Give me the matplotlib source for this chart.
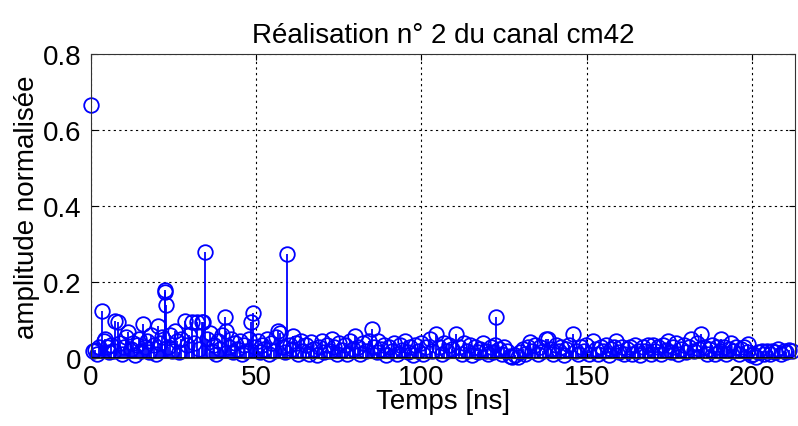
import numpy as np
import matplotlib
matplotlib.use("agg")
import matplotlib.pyplot as plt

# channel realisation (time in ns, normalised amplitude)
t_early = [0.0, 0.6, 1.2, 1.9, 2.5, 3.2, 3.8, 4.3, 5.0, 5.6, 6.2, 6.9, 7.3, 8.2, 8.8,
           9.5, 10.1, 10.7, 11.3, 12.0, 12.6, 13.2, 13.9, 14.5, 15.2, 15.8, 16.4, 17.1,
           17.7, 18.3, 19.0, 19.6, 20.4, 21.0, 21.6, 22.3, 22.5, 22.7, 23.3, 23.9, 24.6,
           25.4, 26.0, 26.7, 27.3, 28.4, 29.0, 29.6, 30.5, 31.2, 32.0, 32.6, 33.5, 34.0,
           34.6, 35.2, 35.9, 36.5, 37.2, 37.8, 38.5, 39.1, 39.8, 40.5, 41.0, 41.7, 42.3,
           43.0, 43.6, 44.3, 45.0, 45.6, 46.3, 47.0, 47.7, 48.5, 49.1, 49.7, 50.4, 51.1,
           51.8, 52.5, 53.2, 53.9, 54.6, 55.3, 56.0, 56.6, 57.3, 58.0, 58.7, 59.4, 60.1,
           60.8, 61.2, 62.0, 62.7, 63.5, 64.3, 65.1, 65.9, 66.7, 67.5, 68.3, 69.1, 69.8]
a_early = [0.665, 0.018, 0.022, 0.010, 0.030, 0.125, 0.045, 0.050, 0.028, 0.015, 0.035,
           0.020, 0.098, 0.094, 0.040, 0.012, 0.030, 0.055, 0.068, 0.025, 0.040, 0.008,
           0.035, 0.050, 0.020, 0.090, 0.030, 0.045, 0.015, 0.060, 0.035, 0.010, 0.085,
           0.040, 0.055, 0.178, 0.174, 0.140, 0.030, 0.060, 0.020, 0.072, 0.045, 0.015,
           0.050, 0.098, 0.035, 0.060, 0.095, 0.040, 0.095, 0.025, 0.095, 0.094, 0.279,
           0.050, 0.065, 0.020, 0.035, 0.010, 0.045, 0.025, 0.060, 0.107, 0.072, 0.030,
           0.050, 0.015, 0.040, 0.025, 0.045, 0.010, 0.035, 0.020, 0.050, 0.094, 0.120,
           0.030, 0.045, 0.015, 0.035, 0.025, 0.050, 0.010, 0.040, 0.020, 0.055, 0.072,
           0.065, 0.030, 0.015, 0.273, 0.035, 0.025, 0.059, 0.040, 0.010, 0.045, 0.020,
           0.035, 0.012, 0.042, 0.025, 0.008, 0.030, 0.046]

t_mid = [70.6, 71.4, 72.2, 72.8, 73.6, 74.4, 75.2, 76.0, 76.8, 77.6, 78.4, 79.2, 79.9,
         80.7, 81.5, 82.3, 83.1, 84.0, 84.9, 85.7, 86.5, 87.0, 87.8, 88.6, 89.4, 90.2,
         91.0, 91.8, 92.6, 93.4, 94.2, 95.0, 95.8, 96.6, 97.4, 98.2, 99.0, 99.8, 100.6,
         101.4, 102.5, 103.3, 104.5, 105.3, 106.1, 106.9, 107.7, 108.5, 109.3, 110.6,
         111.4, 112.2, 113.0, 113.8, 114.6, 115.4, 116.2, 117.0, 117.8, 118.6, 119.4,
         120.2, 121.0, 121.7, 122.3, 122.7, 123.5, 124.3, 125.1, 125.9, 126.7, 127.5,
         128.3, 129.1, 129.9, 130.7, 131.5, 132.3, 132.8, 133.6, 134.4, 135.2, 136.0,
         136.8, 137.8, 138.3, 139.1, 139.9]
a_mid = [0.015, 0.035, 0.020, 0.050, 0.030, 0.010, 0.040, 0.022, 0.035, 0.012, 0.045,
         0.025, 0.059, 0.030, 0.010, 0.040, 0.020, 0.045, 0.077, 0.030, 0.015, 0.044,
         0.025, 0.035, 0.008, 0.030, 0.018, 0.040, 0.012, 0.035, 0.022, 0.046, 0.015,
         0.030, 0.008, 0.035, 0.020, 0.040, 0.012, 0.030, 0.050, 0.020, 0.063, 0.030,
         0.010, 0.040, 0.018, 0.035, 0.025, 0.063, 0.030, 0.012, 0.040, 0.020, 0.035,
         0.008, 0.030, 0.015, 0.025, 0.041, 0.020, 0.010, 0.030, 0.015, 0.034, 0.107,
         0.025, 0.010, 0.030, 0.018, 0.005, 0.003, 0.008, 0.004, 0.015, 0.025, 0.010,
         0.030, 0.042, 0.020, 0.035, 0.012, 0.030, 0.020, 0.050, 0.050, 0.025, 0.010]

t_late = [140.7, 141.5, 142.3, 143.1, 143.9, 144.7, 145.9, 146.7, 147.5, 148.3, 149.1,
          149.9, 150.7, 151.9, 152.7, 153.5, 154.3, 155.1, 155.9, 156.7, 157.5, 158.3,
          159.0, 159.8, 160.6, 161.4, 162.2, 163.0, 163.8, 164.6, 165.4, 166.2, 167.0,
          167.8, 168.6, 169.4, 170.0, 170.8, 171.6, 172.4, 173.2, 174.0, 174.6, 175.4,
          176.2, 177.0, 177.8, 178.6, 179.4, 180.2, 181.0, 181.7, 182.5, 183.3, 184.0,
          184.7, 185.5, 186.3, 187.1, 187.9, 188.7, 189.5, 190.3, 190.7, 191.5, 192.3,
          193.1, 193.6, 194.4, 195.2, 196.0, 196.8, 197.6, 198.4, 198.8, 199.6, 200.4,
          201.2, 202.0, 203.0, 203.8, 204.6, 205.4, 206.2, 207.0, 208.0, 208.8, 209.6,
          210.4, 211.2, 212.0]
a_late = [0.035, 0.020, 0.030, 0.008, 0.025, 0.035, 0.063, 0.020, 0.010, 0.030, 0.018,
          0.035, 0.012, 0.046, 0.025, 0.010, 0.030, 0.018, 0.035, 0.008, 0.025, 0.030,
          0.046, 0.015, 0.030, 0.010, 0.025, 0.030, 0.012, 0.035, 0.020, 0.008, 0.030,
          0.018, 0.035, 0.012, 0.035, 0.020, 0.030, 0.010, 0.035, 0.022, 0.046, 0.015,
          0.030, 0.041, 0.010, 0.025, 0.035, 0.015, 0.030, 0.050, 0.020, 0.040, 0.025,
          0.063, 0.030, 0.010, 0.025, 0.035, 0.012, 0.030, 0.020, 0.050, 0.030, 0.010,
          0.025, 0.041, 0.020, 0.030, 0.010, 0.025, 0.030, 0.015, 0.037, 0.008, 0.010,
          0.004, 0.015, 0.020, 0.012, 0.018, 0.010, 0.020, 0.015, 0.025, 0.012, 0.020,
          0.015, 0.022, 0.018]

xticks = [0, 50, 100, 150, 200]
yticks = [0, 0.2, 0.4, 0.6, 0.8]
ytick_labels = ['0', '0.2', '0.4', '0.6', '0.8']

plt.rcParams['font.family'] = ['Liberation Sans', 'DejaVu Sans']

t = np.array(t_early + t_mid + t_late)
a = np.array(a_early + a_mid + a_late)

fig = plt.figure(figsize=(7.98, 4.27), dpi=100)
ax = fig.add_axes([0.114, 0.159, 0.882, 0.712])

markers, stems, base = ax.stem(t, a, linefmt='b-', markerfmt='o', basefmt='k-')
markers.set_markerfacecolor('none')
markers.set_markeredgecolor('b')
markers.set_markersize(10.5)
markers.set_markeredgewidth(1.3)
markers.set_clip_on(False)
stems.set_linewidth(1.3)
base.set_linewidth(1.2)

ax.set_xlim(0, 213)
ax.set_ylim(0, 0.8)
ax.set_xticks(xticks)
ax.set_yticks(yticks)
ax.set_yticklabels(ytick_labels)
ax.tick_params(direction='in', length=4, labelsize=20, top=True, right=True)
ax.tick_params(axis='x', pad=4)
ax.tick_params(axis='y', pad=7)
ax.grid(True, color='k', linestyle=(0, (2, 3)), linewidth=0.8)
ax.set_axisbelow(True)
for sp in ax.spines.values():
    sp.set_color('#333333')

ax.set_xlabel('Temps [ns]', fontsize=20, labelpad=-1)
ax.set_ylabel('amplitude normalisée', fontsize=20, labelpad=2)
ax.set_title('Réalisation n° 2 du canal cm42', fontsize=20, pad=9)

fig.savefig('out.png', dpi=100)
plt.close(fig)
